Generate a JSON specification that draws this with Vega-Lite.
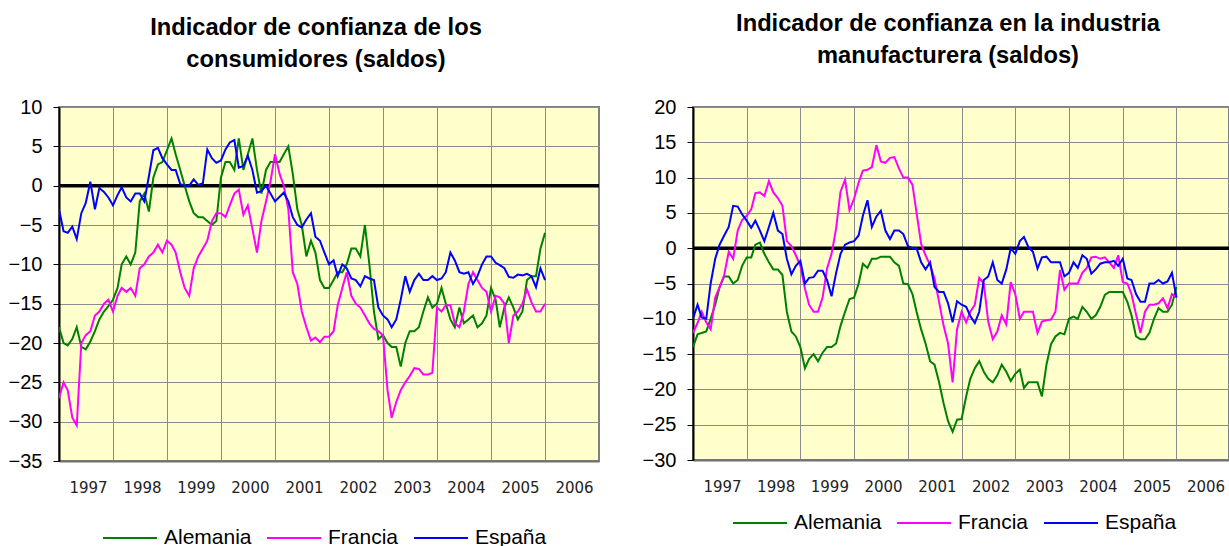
{
  "$schema": "https://vega.github.io/schema/vega-lite/v6.json",
  "background": "white",
  "padding": {"left": 7, "top": 11, "right": 0, "bottom": 0},
  "spacing": 39,
  "config": {
    "font": "Liberation Sans",
    "view": {"fill": "#FFFFCC", "stroke": "#808080", "strokeWidth": 2},
    "title": {"font": "Liberation Sans", "fontSize": 23.7, "fontWeight": "bold", "color": "black", "lineHeight": 32, "anchor": "middle"},
    "axisX": {"grid": true, "gridColor": "#8c8c8c", "gridWidth": 1, "gridOpacity": 1, "ticks": false, "domainColor": "#707070", "domainWidth": 2, "labelFont": "DejaVu Sans", "labelFontSize": 15, "labelColor": "#222222", "labelPadding": 19, "labelOffset": 29, "labelFlush": false, "labelOverlap": false, "title": null},
    "axisY": {"grid": true, "gridColor": "#8c8c8c", "gridWidth": 1, "gridOpacity": 1, "tickSize": 6, "tickColor": "black", "tickWidth": 1, "domainColor": "black", "domainWidth": 2, "labelFont": "Liberation Sans", "labelFontSize": 20, "labelColor": "black", "labelPadding": 11, "title": null},
    "legend": {"orient": "none", "direction": "horizontal", "title": null, "symbolType": "stroke", "symbolSize": 2916, "symbolStrokeWidth": 2, "labelFont": "Liberation Sans", "labelFontSize": 21, "labelColor": "black", "labelOffset": 6, "columnPadding": 11, "padding": 0, "labelLimit": 300}
  },
  "resolve": {"scale": {"x": "independent", "y": "independent", "color": "independent"}, "legend": {"color": "independent"}},
  "datasets": {
    "consumo": [
      {"d":"1997-01","Alemania":-18,"Francia":-27,"España":-3},
      {"d":"1997-02","Alemania":-20,"Francia":-25,"España":-5.8},
      {"d":"1997-03","Alemania":-20.3,"Francia":-26,"España":-6},
      {"d":"1997-04","Alemania":-19.5,"Francia":-29.5,"España":-5.2},
      {"d":"1997-05","Alemania":-18,"Francia":-30.5,"España":-6.8},
      {"d":"1997-06","Alemania":-20.5,"Francia":-20,"España":-3.5},
      {"d":"1997-07","Alemania":-20.8,"Francia":-19,"España":-2.2},
      {"d":"1997-08","Alemania":-19.8,"Francia":-18.5,"España":0.5},
      {"d":"1997-09","Alemania":-18.5,"Francia":-16.5,"España":-3},
      {"d":"1997-10","Alemania":-17,"Francia":-16,"España":-0.3},
      {"d":"1997-11","Alemania":-16,"Francia":-15,"España":-0.8},
      {"d":"1997-12","Alemania":-15.3,"Francia":-14.5,"España":-1.5},
      {"d":"1998-01","Alemania":-14.5,"Francia":-16,"España":-2.5},
      {"d":"1998-02","Alemania":-13,"Francia":-14,"España":-1.2},
      {"d":"1998-03","Alemania":-10,"Francia":-13,"España":-0.2},
      {"d":"1998-04","Alemania":-9,"Francia":-13.5,"España":-1.5},
      {"d":"1998-05","Alemania":-10,"Francia":-13,"España":-2},
      {"d":"1998-06","Alemania":-8.5,"Francia":-14,"España":-1},
      {"d":"1998-07","Alemania":-2,"Francia":-10.5,"España":-1},
      {"d":"1998-08","Alemania":-1,"Francia":-10,"España":-2},
      {"d":"1998-09","Alemania":-3.3,"Francia":-9,"España":1.2},
      {"d":"1998-10","Alemania":1,"Francia":-8.5,"España":4.5},
      {"d":"1998-11","Alemania":2.7,"Francia":-7.5,"España":4.8},
      {"d":"1998-12","Alemania":3,"Francia":-8.5,"España":3.5},
      {"d":"1999-01","Alemania":4.5,"Francia":-7,"España":2.7},
      {"d":"1999-02","Alemania":6,"Francia":-7.5,"España":2},
      {"d":"1999-03","Alemania":4,"Francia":-8.5,"España":2},
      {"d":"1999-04","Alemania":2,"Francia":-11,"España":0.2},
      {"d":"1999-05","Alemania":0,"Francia":-13,"España":0},
      {"d":"1999-06","Alemania":-2,"Francia":-14,"España":0},
      {"d":"1999-07","Alemania":-3.5,"Francia":-10.5,"España":0.8},
      {"d":"1999-08","Alemania":-4,"Francia":-9,"España":0.1},
      {"d":"1999-09","Alemania":-4,"Francia":-8,"España":0.3},
      {"d":"1999-10","Alemania":-4.5,"Francia":-7,"España":4.6},
      {"d":"1999-11","Alemania":-5,"Francia":-4.5,"España":3.5},
      {"d":"1999-12","Alemania":-4.5,"Francia":-3.5,"España":2.9},
      {"d":"2000-01","Alemania":1,"Francia":-3.5,"España":3.2},
      {"d":"2000-02","Alemania":3,"Francia":-4,"España":4.6},
      {"d":"2000-03","Alemania":3,"Francia":-2.5,"España":5.5},
      {"d":"2000-04","Alemania":2,"Francia":-1,"España":5.8},
      {"d":"2000-05","Alemania":6,"Francia":-0.5,"España":2.3},
      {"d":"2000-06","Alemania":2,"Francia":-3.7,"España":2.5},
      {"d":"2000-07","Alemania":4,"Francia":-2.5,"España":3.8},
      {"d":"2000-08","Alemania":6,"Francia":-5.5,"España":2},
      {"d":"2000-09","Alemania":2,"Francia":-8.5,"España":-0.9},
      {"d":"2000-10","Alemania":-1,"Francia":-4.5,"España":-0.7},
      {"d":"2000-11","Alemania":2,"Francia":-2,"España":0},
      {"d":"2000-12","Alemania":3,"Francia":0.5,"España":-1},
      {"d":"2001-01","Alemania":3,"Francia":4,"España":-2},
      {"d":"2001-02","Alemania":3,"Francia":1.5,"España":-1.4},
      {"d":"2001-03","Alemania":4,"Francia":0,"España":-0.9},
      {"d":"2001-04","Alemania":5,"Francia":-3,"España":-2},
      {"d":"2001-05","Alemania":1.5,"Francia":-11,"España":-4},
      {"d":"2001-06","Alemania":-3,"Francia":-12.5,"España":-5},
      {"d":"2001-07","Alemania":-5,"Francia":-16,"España":-5.3},
      {"d":"2001-08","Alemania":-9,"Francia":-18,"España":-4.3},
      {"d":"2001-09","Alemania":-7,"Francia":-19.7,"España":-3.5},
      {"d":"2001-10","Alemania":-8.5,"Francia":-19.3,"España":-6.5},
      {"d":"2001-11","Alemania":-12,"Francia":-19.9,"España":-7},
      {"d":"2001-12","Alemania":-13,"Francia":-19.2,"España":-8.5},
      {"d":"2002-01","Alemania":-13,"Francia":-19.2,"España":-10},
      {"d":"2002-02","Alemania":-12,"Francia":-18.5,"España":-9.5},
      {"d":"2002-03","Alemania":-11,"Francia":-15.2,"España":-11.5},
      {"d":"2002-04","Alemania":-11,"Francia":-13,"España":-10},
      {"d":"2002-05","Alemania":-10,"Francia":-11,"España":-10.5},
      {"d":"2002-06","Alemania":-8,"Francia":-14,"España":-11.8},
      {"d":"2002-07","Alemania":-8,"Francia":-15,"España":-12},
      {"d":"2002-08","Alemania":-9,"Francia":-15.5,"España":-12.8},
      {"d":"2002-09","Alemania":-5,"Francia":-16.5,"España":-11.5},
      {"d":"2002-10","Alemania":-10,"Francia":-17.5,"España":-11.8},
      {"d":"2002-11","Alemania":-16,"Francia":-18.2,"España":-12},
      {"d":"2002-12","Alemania":-19.5,"Francia":-18.5,"España":-15.5},
      {"d":"2003-01","Alemania":-19,"Francia":-19,"España":-16.5},
      {"d":"2003-02","Alemania":-20,"Francia":-26,"España":-17},
      {"d":"2003-03","Alemania":-20.5,"Francia":-29.5,"España":-18},
      {"d":"2003-04","Alemania":-20.5,"Francia":-27.5,"España":-17},
      {"d":"2003-05","Alemania":-23,"Francia":-26,"España":-14.5},
      {"d":"2003-06","Alemania":-20,"Francia":-25,"España":-11.5},
      {"d":"2003-07","Alemania":-18.5,"Francia":-24.2,"España":-13.5},
      {"d":"2003-08","Alemania":-18.5,"Francia":-23.2,"España":-12},
      {"d":"2003-09","Alemania":-18,"Francia":-23.3,"España":-11.2},
      {"d":"2003-10","Alemania":-16,"Francia":-24,"España":-12},
      {"d":"2003-11","Alemania":-14.2,"Francia":-24,"España":-12},
      {"d":"2003-12","Alemania":-15.5,"Francia":-23.8,"España":-11.5},
      {"d":"2004-01","Alemania":-15,"Francia":-15.5,"España":-12},
      {"d":"2004-02","Alemania":-13,"Francia":-16,"España":-11.8},
      {"d":"2004-03","Alemania":-15,"Francia":-15.2,"España":-11},
      {"d":"2004-04","Alemania":-17,"Francia":-15.2,"España":-8.5},
      {"d":"2004-05","Alemania":-18,"Francia":-17.5,"España":-9.5},
      {"d":"2004-06","Alemania":-15.5,"Francia":-18,"España":-11},
      {"d":"2004-07","Alemania":-17.5,"Francia":-16,"España":-11.2},
      {"d":"2004-08","Alemania":-17,"Francia":-12.5,"España":-11},
      {"d":"2004-09","Alemania":-16.5,"Francia":-11,"España":-12.5},
      {"d":"2004-10","Alemania":-18,"Francia":-12,"España":-11.5},
      {"d":"2004-11","Alemania":-17.5,"Francia":-13,"España":-10},
      {"d":"2004-12","Alemania":-16.5,"Francia":-13.5,"España":-9},
      {"d":"2005-01","Alemania":-13,"Francia":-16,"España":-9},
      {"d":"2005-02","Alemania":-14.5,"Francia":-14,"España":-9.8},
      {"d":"2005-03","Alemania":-18,"Francia":-14.2,"España":-10.1},
      {"d":"2005-04","Alemania":-15.5,"Francia":-15,"España":-10.5},
      {"d":"2005-05","Alemania":-14.2,"Francia":-20,"España":-11.6},
      {"d":"2005-06","Alemania":-15.5,"Francia":-16.5,"España":-11.7},
      {"d":"2005-07","Alemania":-17,"Francia":-16,"España":-11.3},
      {"d":"2005-08","Alemania":-16,"Francia":-15,"España":-11.4},
      {"d":"2005-09","Alemania":-12,"Francia":-13.2,"España":-11.2},
      {"d":"2005-10","Alemania":-11.5,"Francia":-14.8,"España":-11.5},
      {"d":"2005-11","Alemania":-11.5,"Francia":-16,"España":-12.9},
      {"d":"2005-12","Alemania":-8,"Francia":-16,"España":-10.5},
      {"d":"2006-01","Alemania":-6,"Francia":-15,"España":-12}
    ],
    "industria": [
      {"d":"1997-01","Alemania":-14,"Francia":-12,"España":-10},
      {"d":"1997-02","Alemania":-12.2,"Francia":-10.6,"España":-8},
      {"d":"1997-03","Alemania":-12,"Francia":-9,"España":-9.8},
      {"d":"1997-04","Alemania":-11.8,"Francia":-10.5,"España":-10},
      {"d":"1997-05","Alemania":-10,"Francia":-11.5,"España":-5},
      {"d":"1997-06","Alemania":-8,"Francia":-7,"España":-1.5},
      {"d":"1997-07","Alemania":-5.5,"Francia":-5.5,"España":0.5},
      {"d":"1997-08","Alemania":-4,"Francia":-3.8,"España":1.8},
      {"d":"1997-09","Alemania":-4,"Francia":-0.5,"España":3},
      {"d":"1997-10","Alemania":-5,"Francia":-1.5,"España":6},
      {"d":"1997-11","Alemania":-4.5,"Francia":2.5,"España":5.9},
      {"d":"1997-12","Alemania":-2.5,"Francia":4,"España":4.8},
      {"d":"1998-01","Alemania":-1.3,"Francia":4.6,"España":3.9},
      {"d":"1998-02","Alemania":-1.3,"Francia":5.5,"España":2.9},
      {"d":"1998-03","Alemania":0.5,"Francia":7.8,"España":3.9},
      {"d":"1998-04","Alemania":0.8,"Francia":7.9,"España":2.5},
      {"d":"1998-05","Alemania":-0.8,"Francia":7.4,"España":1},
      {"d":"1998-06","Alemania":-2,"Francia":9.5,"España":3},
      {"d":"1998-07","Alemania":-3,"Francia":7.9,"España":5},
      {"d":"1998-08","Alemania":-3,"Francia":7.1,"España":2.5},
      {"d":"1998-09","Alemania":-3.8,"Francia":6,"España":2},
      {"d":"1998-10","Alemania":-9,"Francia":1,"España":-1.5},
      {"d":"1998-11","Alemania":-11.8,"Francia":0.3,"España":-3.7},
      {"d":"1998-12","Alemania":-12.5,"Francia":-1,"España":-2.5},
      {"d":"1999-01","Alemania":-14,"Francia":-2.5,"España":-1.8},
      {"d":"1999-02","Alemania":-17,"Francia":-5.7,"España":-5},
      {"d":"1999-03","Alemania":-15.7,"Francia":-8,"España":-4.2},
      {"d":"1999-04","Alemania":-15,"Francia":-9,"España":-4.1},
      {"d":"1999-05","Alemania":-16,"Francia":-9,"España":-3.2},
      {"d":"1999-06","Alemania":-14.8,"Francia":-7,"España":-3.2},
      {"d":"1999-07","Alemania":-14,"Francia":-2.9,"España":-4.5},
      {"d":"1999-08","Alemania":-14,"Francia":-0.8,"España":-6.8},
      {"d":"1999-09","Alemania":-13.5,"Francia":2.8,"España":-3.5},
      {"d":"1999-10","Alemania":-11,"Francia":8,"España":-0.8},
      {"d":"1999-11","Alemania":-9,"Francia":9.7,"España":0.5},
      {"d":"1999-12","Alemania":-7.2,"Francia":5.4,"España":0.8},
      {"d":"2000-01","Alemania":-7,"Francia":7,"España":1},
      {"d":"2000-02","Alemania":-5,"Francia":9.3,"España":1.8},
      {"d":"2000-03","Alemania":-2.2,"Francia":11,"España":4.6},
      {"d":"2000-04","Alemania":-2.8,"Francia":11.1,"España":6.8},
      {"d":"2000-05","Alemania":-1.5,"Francia":11.5,"España":3},
      {"d":"2000-06","Alemania":-1.5,"Francia":14.6,"España":4.5},
      {"d":"2000-07","Alemania":-1.2,"Francia":12.3,"España":5.3},
      {"d":"2000-08","Alemania":-1.2,"Francia":12.1,"España":2.5},
      {"d":"2000-09","Alemania":-1.2,"Francia":12.8,"España":1.3},
      {"d":"2000-10","Alemania":-2,"Francia":12.9,"España":2.5},
      {"d":"2000-11","Alemania":-2.5,"Francia":11.3,"España":2.5},
      {"d":"2000-12","Alemania":-5,"Francia":10,"España":2},
      {"d":"2001-01","Alemania":-5.1,"Francia":10,"España":0.3},
      {"d":"2001-02","Alemania":-6.5,"Francia":9,"España":0},
      {"d":"2001-03","Alemania":-9,"Francia":5,"España":0},
      {"d":"2001-04","Alemania":-11.5,"Francia":0.6,"España":-2},
      {"d":"2001-05","Alemania":-13.5,"Francia":-1,"España":-3},
      {"d":"2001-06","Alemania":-16,"Francia":-2.4,"España":-2},
      {"d":"2001-07","Alemania":-16.5,"Francia":-4.3,"España":-5.5},
      {"d":"2001-08","Alemania":-19,"Francia":-7.6,"España":-6.2},
      {"d":"2001-09","Alemania":-22,"Francia":-11,"España":-6.2},
      {"d":"2001-10","Alemania":-24.5,"Francia":-13.5,"España":-7.8},
      {"d":"2001-11","Alemania":-26,"Francia":-19,"España":-10.5},
      {"d":"2001-12","Alemania":-24.3,"Francia":-11.5,"España":-7.5},
      {"d":"2002-01","Alemania":-24.2,"Francia":-9,"España":-8},
      {"d":"2002-02","Alemania":-21,"Francia":-10.5,"España":-8.3},
      {"d":"2002-03","Alemania":-18.5,"Francia":-9,"España":-9.6},
      {"d":"2002-04","Alemania":-17,"Francia":-8,"España":-10.6},
      {"d":"2002-05","Alemania":-16,"Francia":-4.2,"España":-9},
      {"d":"2002-06","Alemania":-17.5,"Francia":-5,"España":-4.5},
      {"d":"2002-07","Alemania":-18.5,"Francia":-10.4,"España":-4},
      {"d":"2002-08","Alemania":-19,"Francia":-12.9,"España":-2},
      {"d":"2002-09","Alemania":-18,"Francia":-11.8,"España":-4.5},
      {"d":"2002-10","Alemania":-16.5,"Francia":-9.5,"España":-5},
      {"d":"2002-11","Alemania":-17.5,"Francia":-10.8,"España":-3},
      {"d":"2002-12","Alemania":-18.8,"Francia":-4.8,"España":0},
      {"d":"2003-01","Alemania":-17.8,"Francia":-6.5,"España":-0.8},
      {"d":"2003-02","Alemania":-17.2,"Francia":-10,"España":1},
      {"d":"2003-03","Alemania":-19.8,"Francia":-9,"España":1.6},
      {"d":"2003-04","Alemania":-19,"Francia":-9,"España":0.1},
      {"d":"2003-05","Alemania":-19,"Francia":-9,"España":-0.5},
      {"d":"2003-06","Alemania":-19,"Francia":-12,"España":-2.9},
      {"d":"2003-07","Alemania":-21,"Francia":-10.4,"España":-1.3},
      {"d":"2003-08","Alemania":-16.5,"Francia":-10.2,"España":-1.2},
      {"d":"2003-09","Alemania":-13.6,"Francia":-10.1,"España":-2},
      {"d":"2003-10","Alemania":-12.5,"Francia":-9,"España":-2},
      {"d":"2003-11","Alemania":-12,"Francia":-3.1,"España":-2},
      {"d":"2003-12","Alemania":-12.2,"Francia":-5.9,"España":-4},
      {"d":"2004-01","Alemania":-10,"Francia":-5,"España":-3.5},
      {"d":"2004-02","Alemania":-9.7,"Francia":-5,"España":-2},
      {"d":"2004-03","Alemania":-10,"Francia":-5,"España":-2.8},
      {"d":"2004-04","Alemania":-8.3,"Francia":-3.5,"España":-1},
      {"d":"2004-05","Alemania":-9,"Francia":-2.8,"España":-1.5},
      {"d":"2004-06","Alemania":-10,"Francia":-1.3,"España":-3.6},
      {"d":"2004-07","Alemania":-9.5,"Francia":-1.2,"España":-3},
      {"d":"2004-08","Alemania":-8.3,"Francia":-1.5,"España":-2.2},
      {"d":"2004-09","Alemania":-6.6,"Francia":-1.3,"España":-2},
      {"d":"2004-10","Alemania":-6.2,"Francia":-2,"España":-2},
      {"d":"2004-11","Alemania":-6.2,"Francia":-2.8,"España":-1.8},
      {"d":"2004-12","Alemania":-6.2,"Francia":-1,"España":-2.5},
      {"d":"2005-01","Alemania":-6.2,"Francia":-4.8,"España":-1.5},
      {"d":"2005-02","Alemania":-7.6,"Francia":-5,"España":-4.3},
      {"d":"2005-03","Alemania":-9.5,"Francia":-6.5,"España":-4.5},
      {"d":"2005-04","Alemania":-12.5,"Francia":-9.4,"España":-6.5},
      {"d":"2005-05","Alemania":-12.9,"Francia":-12,"España":-7.6},
      {"d":"2005-06","Alemania":-12.9,"Francia":-9,"España":-7.6},
      {"d":"2005-07","Alemania":-12,"Francia":-8,"España":-5},
      {"d":"2005-08","Alemania":-10,"Francia":-8,"España":-5},
      {"d":"2005-09","Alemania":-8.5,"Francia":-7.8,"España":-4.5},
      {"d":"2005-10","Alemania":-9,"Francia":-7.1,"España":-5},
      {"d":"2005-11","Alemania":-9,"Francia":-8.5,"España":-4.7},
      {"d":"2005-12","Alemania":-8,"Francia":-6.5,"España":-3.5},
      {"d":"2006-01","Alemania":-5.5,"Francia":-6.9,"España":-7}
    ]
  },
  "hconcat": [
    {
      "width": 540,
      "height": 354,
      "title": {"text": ["Indicador de confianza de los", "consumidores (saldos)"], "offset": 25, "dx": -13},
      "layer": [
        {
          "data": {"values": [{"nivel": 0}]},
          "mark": {"type": "rule", "color": "black", "strokeWidth": 3.5},
          "encoding": {
            "y": {"field": "nivel", "type": "quantitative", "scale": {"domain": [-35, 10], "nice": false, "zero": false}, "axis": {"values": [-35,-30,-25,-20,-15,-10,-5,0,5,10], "minExtent": 45, "maxExtent": 45}}
          }
        },
        {
          "data": {"name": "consumo"},
          "transform": [{"fold": ["Alemania", "Francia", "España"], "as": ["pais", "saldo"]}],
          "mark": {"type": "line", "strokeWidth": 2, "clip": true},
          "encoding": {
            "x": {"field": "d", "type": "temporal", "scale": {"domain": [{"year": 1997, "month": 1, "date": 1}, {"year": 2007, "month": 1, "date": 1}]}, "axis": {"values": [{"year":1997,"month":1,"date":1},{"year":1998,"month":1,"date":1},{"year":1999,"month":1,"date":1},{"year":2000,"month":1,"date":1},{"year":2001,"month":1,"date":1},{"year":2002,"month":1,"date":1},{"year":2003,"month":1,"date":1},{"year":2004,"month":1,"date":1},{"year":2005,"month":1,"date":1},{"year":2006,"month":1,"date":1}], "format": "%Y"}},
            "y": {"field": "saldo", "type": "quantitative", "scale": {"domain": [-35, 10], "nice": false, "zero": false}, "axis": {"values": [-35,-30,-25,-20,-15,-10,-5,0,5,10], "minExtent": 45, "maxExtent": 45}},
            "color": {"field": "pais", "type": "nominal", "sort": ["Alemania", "Francia", "España"], "scale": {"domain": ["Alemania", "Francia", "España"], "range": ["#008000", "#FF00FF", "#0000FF"]}, "legend": {"legendX": 43, "legendY": 403}}
          }
        }
      ]
    },
    {
      "width": 536,
      "height": 353,
      "title": {"text": ["Indicador de confianza en la industria", "manufacturera (saldos)"], "offset": 29, "dx": -13},
      "layer": [
        {
          "data": {"values": [{"nivel": 0}]},
          "mark": {"type": "rule", "color": "black", "strokeWidth": 3.5},
          "encoding": {
            "y": {"field": "nivel", "type": "quantitative", "scale": {"domain": [-30, 20], "nice": false, "zero": false}, "axis": {"values": [-30,-25,-20,-15,-10,-5,0,5,10,15,20], "minExtent": 47, "maxExtent": 47}}
          }
        },
        {
          "data": {"name": "industria"},
          "transform": [{"fold": ["Alemania", "Francia", "España"], "as": ["pais", "saldo"]}],
          "mark": {"type": "line", "strokeWidth": 2, "clip": true},
          "encoding": {
            "x": {"field": "d", "type": "temporal", "scale": {"domain": [{"year": 1997, "month": 1, "date": 1}, {"year": 2006, "month": 12, "date": 24}]}, "axis": {"values": [{"year":1997,"month":1,"date":1},{"year":1998,"month":1,"date":1},{"year":1999,"month":1,"date":1},{"year":2000,"month":1,"date":1},{"year":2001,"month":1,"date":1},{"year":2002,"month":1,"date":1},{"year":2003,"month":1,"date":1},{"year":2004,"month":1,"date":1},{"year":2005,"month":1,"date":1},{"year":2006,"month":1,"date":1}], "format": "%Y"}},
            "y": {"field": "saldo", "type": "quantitative", "scale": {"domain": [-30, 20], "nice": false, "zero": false}, "axis": {"values": [-30,-25,-20,-15,-10,-5,0,5,10,15,20], "minExtent": 47, "maxExtent": 47}},
            "color": {"field": "pais", "type": "nominal", "sort": ["Alemania", "Francia", "España"], "scale": {"domain": ["Alemania", "Francia", "España"], "range": ["#008000", "#FF00FF", "#0000FF"]}, "legend": {"legendX": 39, "legendY": 388}}
          }
        }
      ]
    }
  ]
}
